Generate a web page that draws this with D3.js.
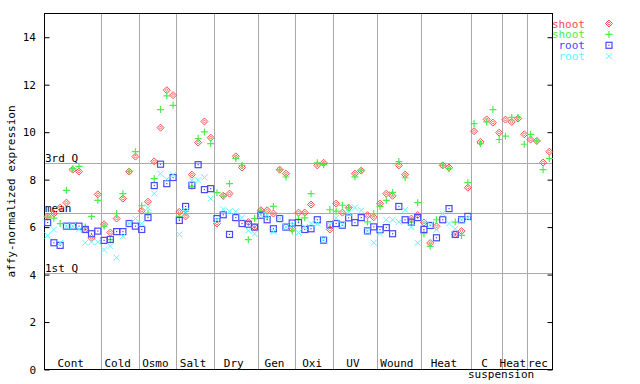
<!DOCTYPE html>
<html><head><meta charset="utf-8">
<script src="https://cdn.jsdelivr.net/npm/d3@7"></script>
<style>html,body{margin:0;padding:0;background:#fff}svg{display:block}text{font-family:"DejaVu Sans Mono",monospace;font-size:11px}</style>
</head><body><svg id="c" width="640" height="384"></svg>
<script>
const groups = ["Cont","Cold","Osmo","Salt","Dry","Gen","Oxi","UV","Wound","Heat","C suspension","Heat","rec"];
const groupSizes = [9,6,6,6,7,6,6,7,7,8,5,4,4];
const yTicks = [0,2,4,6,8,10,12,14];
const statLabels = ["3rd Q","mean","1st Q"];
const statValues = [8.68,6.61,4.06];
const seriesNames = ["shoot","shoot","root","root"];
const seriesColors = ["#ff4a4a","#4aee4a","#4848ff","#55ffff"];

const shootA = [6.45,6.57,6.82,7.03,8.42,8.34,5.90,5.55,7.38, 6.12,5.77,6.36,7.20,8.34,8.97, 6.69,7.07,8.77,10.19,11.77,11.56,
 6.64,6.45,8.21,9.56,10.45,9.77, 6.15,7.32,7.41,8.98,8.51,6.21,6.00, 6.71,6.71,6.57,8.42,8.25,5.93, 6.61,6.61,6.95,8.60,8.71,5.90,
 6.99,6.61,6.82,8.25,8.38,6.50,6.42, 6.99,7.41,7.32,8.60,8.21,6.36,6.51, 6.19,5.33,6.03,8.60,8.51,5.69,5.83,7.66,
 10.04,9.59,10.54,10.40,9.98, 10.53,10.43,10.57,9.91, 9.69,9.63,8.72,9.18];
const shootB = [6.42,6.38,6.15,7.55,8.46,8.56,6.00,6.45,7.13, 6.04,5.47,6.57,7.41,8.35,9.18, 6.90,6.59,8.04,10.95,11.53,11.13,
 6.45,6.66,7.72,9.73,10.01,9.52, 7.45,7.30,7.83,8.89,8.60,5.47,6.36, 6.66,6.45,6.87,8.42,8.11,5.84, 6.33,6.39,7.41,8.71,8.63,6.73,
 6.67,6.92,6.82,8.12,8.40,6.22,6.57, 6.87,7.13,7.46,8.76,8.08,6.21,7.03, 5.72,5.19,6.31,8.60,8.46,6.21,5.65,7.87,
 10.36,9.52,10.43,10.95,9.69, 9.83,10.62,10.62,9.49, 9.91,9.63,8.42,8.89];
const rootA = [6.19,5.34,5.23,6.04,6.04,6.04,5.90,5.72,5.83, 5.44,5.48,5.81,5.81,6.15,6.04, 5.90,6.40,7.75,8.65,7.83,8.09,
 6.28,6.87,7.76,8.63,7.58,7.62, 6.36,6.52,5.69,6.40,6.15,6.12,6.00, 6.50,6.31,5.93,6.36,6.00,6.17, 6.19,5.90,5.93,6.31,5.45,6.10,
 6.15,6.08,6.39,6.19,6.40,5.84,6.01, 5.89,5.98,5.72,6.87,6.31,6.21,6.40, 5.90,6.07,5.55,6.31,6.78,5.69,6.31,6.45,
 null,null,null,null,null, null,null,null,null, null,null,null,null];
const rootB = [5.65,5.90,5.33,6.04,6.04,5.90,5.34,5.37,5.37, 5.05,5.20,4.71,5.62,6.15,6.36, 6.15,6.82,7.41,8.25,8.01,8.21,
 5.69,6.66,7.97,7.97,8.09,7.20, 6.30,6.75,6.66,6.66,6.40,5.86,5.72, 6.50,6.50,5.81,6.36,6.00,6.10, 5.77,6.00,6.15,6.15,5.47,6.10,
 6.39,6.10,6.60,6.82,6.70,5.83,5.34, 5.73,6.31,6.31,6.22,6.73,6.00,5.34, 6.20,6.10,5.89,6.57,6.15,5.93,6.30,6.38,
 null,null,null,null,null, null,null,null,null, null,null,null,null];
const series = [shootA, shootB, rootA, rootB];

const svg = d3.select("#c");
const nSlots = d3.sum(groupSizes);
const x = d3.scaleLinear().domain([0, nSlots]).range([44.5, 552.5]);
const y = d3.scaleLinear().domain([0, 15]).range([369.5, 13.5]);
const L = x.range()[0], R = x.range()[1], T = y.range()[1], B = y.range()[0];

// group separators
const bounds = d3.cumsum(groupSizes);
svg.append("g").selectAll("line").data(bounds.slice(0, -1)).join("line")
  .attr("x1", d => Math.round(x(d)) + 0.5).attr("x2", d => Math.round(x(d)) + 0.5)
  .attr("y1", T).attr("y2", B).attr("stroke", "#aaaaaa").attr("stroke-width", 1);

// stat lines
const sg = svg.append("g");
statValues.forEach((v, i) => {
  const yy = Math.round(y(v)) + 0.5;
  sg.append("line").attr("x1", L).attr("x2", R).attr("y1", yy).attr("y2", yy)
    .attr("stroke", "#aaaaaa").attr("stroke-width", 1);
  sg.append("text").attr("x", 45).attr("y", yy - 1.5).attr("fill", "#000").text(statLabels[i]);
});

// frame
svg.append("rect").attr("x", L).attr("y", T).attr("width", R - L).attr("height", B - T)
  .attr("fill", "none").attr("stroke", "#000").attr("stroke-width", 1);

// y axis (inward ticks on both sides)
const yl = svg.append("g").attr("transform", `translate(${L},0)`)
  .call(d3.axisRight(y).tickValues(yTicks).tickSize(5).tickFormat(""));
yl.select(".domain").remove();
yl.selectAll("line").attr("stroke", "#000");
const yr = svg.append("g").attr("transform", `translate(${R},0)`)
  .call(d3.axisLeft(y).tickValues(yTicks).tickSize(5).tickFormat(""));
yr.select(".domain").remove();
yr.selectAll("line").attr("stroke", "#000");
svg.append("g").selectAll("text").data(yTicks).join("text")
  .attr("x", 36).attr("y", d => y(d) + 4).attr("text-anchor", "end").attr("fill", "#000").text(d => d);

svg.append("text").attr("transform", `translate(15,${(T + B) / 2}) rotate(-90)`)
  .attr("text-anchor", "middle").attr("fill", "#000").text("affy-normalized expression");

// x labels
const starts = [0, ...bounds.slice(0, -1)];
groups.forEach((g, i) => {
  const cx = (x(starts[i]) + x(bounds[i])) / 2 - 2;
  const parts = g.split(" ");
  svg.append("text").attr("x", cx).attr("y", 367).attr("text-anchor", "middle").attr("fill", "#000").text(parts[0]);
  if (parts.length > 1) {
    svg.append("text").attr("x", x(starts[i]) - 3).attr("y", 378).attr("fill", "#000").text(parts.slice(1).join(" "));
  }
});

// markers
function marker(sel, k, color) {
  if (k === 0) {
    sel.append("path").attr("d", "M0,-3.5L3.5,0L0,3.5L-3.5,0Z").attr("fill", "none").attr("stroke", color).attr("stroke-width", 1);
    sel.append("path").attr("d", "M0,-1.5L1.5,0L0,1.5L-1.5,0Z").attr("fill", "none").attr("stroke", color).attr("stroke-width", 0.8);
  } else if (k === 1) {
    sel.append("path").attr("d", "M-3.5,0H3.5M0,-3.5V3.5").attr("stroke", color).attr("stroke-width", 1.2);
  } else if (k === 2) {
    sel.append("rect").attr("x", -3).attr("y", -3).attr("width", 6).attr("height", 6).attr("fill", "none").attr("stroke", color).attr("stroke-width", 1.2);
    sel.append("rect").attr("x", -0.6).attr("y", -0.6).attr("width", 1.2).attr("height", 1.2).attr("fill", color);
  } else {
    sel.append("path").attr("d", "M-3,-3L3,3M-3,3L3,-3").attr("stroke", color).attr("stroke-width", 1);
  }
}
series.forEach((vals, k) => {
  const g = svg.append("g");
  vals.forEach((v, i) => {
    if (v == null) return;
    const m = g.append("g").attr("transform", `translate(${x(i + 0.5)},${y(v)})`);
    marker(m, k, seriesColors[k]);
  });
});

// legend
const lg = svg.append("g");
seriesNames.forEach((n, k) => {
  const by = 27.5 + k * 10.9;
  lg.append("text").attr("x", 585).attr("y", by).attr("text-anchor", "end").attr("fill", seriesColors[k]).text(n);
  const m = lg.append("g").attr("transform", `translate(609,${by - 4})`);
  marker(m, k, seriesColors[k]);
});
</script></body></html>
